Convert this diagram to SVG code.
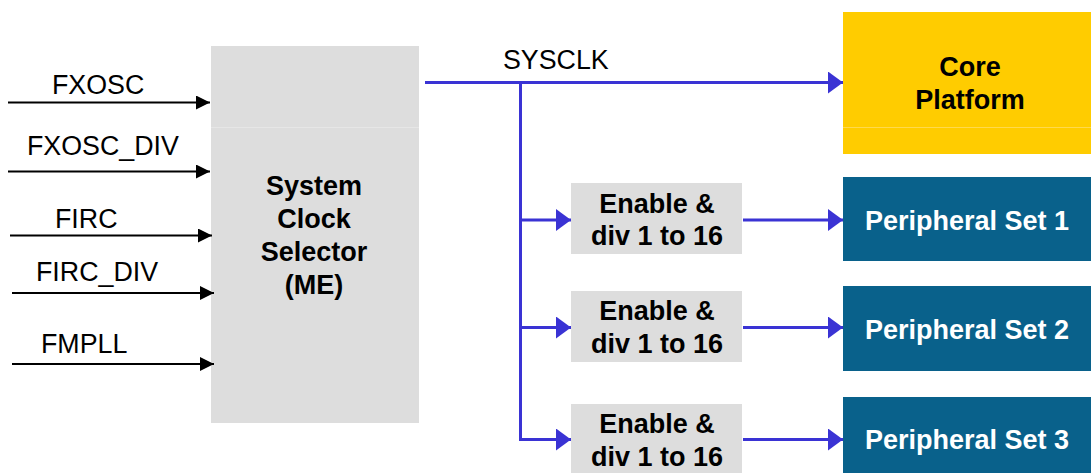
<svg xmlns="http://www.w3.org/2000/svg" width="1091" height="473" viewBox="0 0 1091 473">
<defs>
<style>
.lbl{font-family:"Liberation Sans",Arial,sans-serif;font-size:26.8px;fill:#000}
.b{font-family:"Liberation Sans",Arial,sans-serif;font-size:27px;font-weight:bold;text-anchor:middle}
.dk{fill:#000}
.wt{fill:#fff}
.blk{stroke:#000;stroke-width:2.2;fill:none}
.blu{stroke:#3a33d4;stroke-width:3;fill:none}
</style>
<marker id="ak" markerUnits="userSpaceOnUse" markerWidth="16" markerHeight="14" refX="14" refY="7" orient="auto"><path d="M0,0 L14,7 L0,14 Z" fill="#000"/></marker>
<marker id="ab" markerUnits="userSpaceOnUse" markerWidth="16" markerHeight="24" refX="15" refY="11" orient="auto"><path d="M0,0 L15,11 L0,22 Z" fill="#3a33d4"/></marker>
</defs>
<rect width="1091" height="473" fill="#fff"/>
<g id="selector">
<rect x="211" y="46" width="208" height="377" fill="#dddddd"/>
<line x1="211" y1="127.5" x2="419" y2="127.5" stroke="#e6e6e6" stroke-width="1"/>
<text class="b dk" x="314" y="195">System</text>
<text class="b dk" x="314" y="228">Clock</text>
<text class="b dk" x="314" y="261">Selector</text>
<text class="b dk" x="314" y="294">(ME)</text>
</g>
<g id="core">
<rect x="843" y="12" width="248" height="142" fill="#ffcc00"/>
<line x1="843" y1="127.5" x2="1091" y2="127.5" stroke="#ffd94d" stroke-width="1"/>
<text class="b dk" x="970" y="76">Core</text>
<text class="b dk" x="970" y="109">Platform</text>
</g>
<g id="en1">
<rect x="571" y="183" width="171" height="71" fill="#dddddd"/>
<text class="b dk" x="657" y="213">Enable &amp;</text>
<text class="b dk" x="657" y="245">div 1 to 16</text>
</g>
<g id="en2">
<rect x="571" y="291" width="171" height="71" fill="#dddddd"/>
<text class="b dk" x="657" y="320">Enable &amp;</text>
<text class="b dk" x="657" y="353">div 1 to 16</text>
</g>
<g id="en3">
<rect x="571" y="404" width="171" height="71" fill="#dddddd"/>
<text class="b dk" x="657" y="433">Enable &amp;</text>
<text class="b dk" x="657" y="466">div 1 to 16</text>
</g>
<g id="ps1">
<rect x="843" y="177" width="248" height="84" fill="#09618b"/>
<text class="b wt" x="967" y="230">Peripheral Set 1</text>
</g>
<g id="ps2">
<rect x="843" y="286" width="248" height="85" fill="#09618b"/>
<text class="b wt" x="967" y="339">Peripheral Set 2</text>
</g>
<g id="ps3">
<rect x="843" y="397" width="248" height="80" fill="#09618b"/>
<text class="b wt" x="967" y="449">Peripheral Set 3</text>
</g>
<g id="labels">
<text class="lbl" x="52" y="94">FXOSC</text>
<text class="lbl" x="27" y="155">FXOSC_DIV</text>
<text class="lbl" x="55" y="228">FIRC</text>
<text class="lbl" x="36" y="281">FIRC_DIV</text>
<text class="lbl" x="41" y="353">FMPLL</text>
<text class="lbl" x="503" y="69">SYSCLK</text>
</g>
<g id="connectors">
<line class="blk" x1="8" y1="102.5" x2="210" y2="102.5" marker-end="url(#ak)"/>
<line class="blk" x1="8" y1="171.5" x2="210" y2="171.5" marker-end="url(#ak)"/>
<line class="blk" x1="10" y1="235.5" x2="212" y2="235.5" marker-end="url(#ak)"/>
<line class="blk" x1="12" y1="293" x2="214" y2="293" marker-end="url(#ak)"/>
<line class="blk" x1="12" y1="364" x2="214" y2="364" marker-end="url(#ak)"/>
<line class="blu" x1="425" y1="82.5" x2="843" y2="82.5" marker-end="url(#ab)"/>
<line class="blu" x1="520.5" y1="82.5" x2="520.5" y2="441"/>
<line class="blu" x1="519" y1="220" x2="571" y2="220" marker-end="url(#ab)"/>
<line class="blu" x1="519" y1="327.5" x2="571" y2="327.5" marker-end="url(#ab)"/>
<line class="blu" x1="519" y1="439.5" x2="571" y2="439.5" marker-end="url(#ab)"/>
<line class="blu" x1="743" y1="220" x2="843" y2="220" marker-end="url(#ab)"/>
<line class="blu" x1="743" y1="327.5" x2="843" y2="327.5" marker-end="url(#ab)"/>
<line class="blu" x1="743" y1="439.5" x2="843" y2="439.5" marker-end="url(#ab)"/>
</g>
</svg>
